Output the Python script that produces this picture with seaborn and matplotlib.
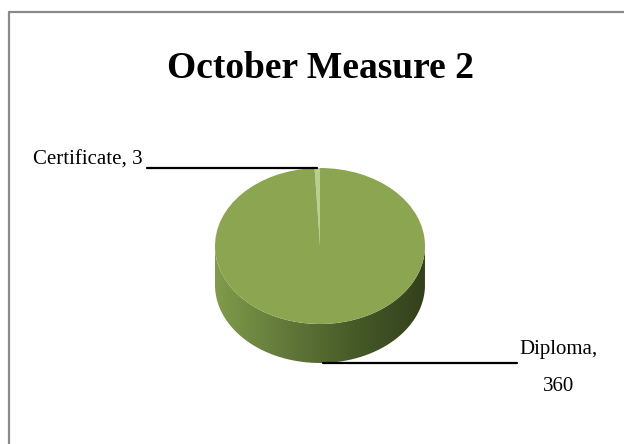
import numpy as np
import matplotlib
matplotlib.use("Agg")
import matplotlib.pyplot as plt
from matplotlib.lines import Line2D
from matplotlib.path import Path
from matplotlib.patches import PathPatch
import seaborn as sns

categories = ["Certificate", "Diploma"]
values = [3, 360]
title = "October Measure 2"

sns.set_theme(style="white")
plt.rcParams['font.family'] = ['Liberation Serif', 'DejaVu Serif']

top_colors = ["#b9cf8f", "#8ba551"]
side_cmap = sns.blend_palette(["#809b4a", "#62793a", "#465a27", "#33411c"], n_colors=256, as_cmap=True)
depth = 0.5

fig = plt.figure(figsize=(6.24, 4.44), dpi=100)
ax = fig.add_axes([215 / 624, 81 / 444, 210 / 624, 195 / 444])

# side of the cylinder (lower half of the ellipse, extruded downward)
t = np.linspace(np.pi, 2 * np.pi, 200)
xs = np.concatenate([np.cos(t), np.cos(t[::-1])])
ys = np.concatenate([np.sin(t), np.sin(t[::-1]) - depth])
side = PathPatch(Path(np.column_stack([xs, ys])), facecolor="none", edgecolor="none")
ax.add_patch(side)
grad = np.linspace(0, 1, 256).reshape(1, -1)
img = ax.imshow(grad, cmap=side_cmap, extent=(-1, 1, -1 - depth, 0.05), aspect="auto", zorder=1)
img.set_clip_path(side)

# top face
wedges, _ = ax.pie(values, colors=top_colors, startangle=90, counterclock=True,
                   radius=1, center=(0, 0), frame=True,
                   wedgeprops=dict(linewidth=0, zorder=2))
ax.set_xlim(-1, 1)
ax.set_ylim(-1 - depth, 1)
ax.set_aspect("auto")
ax.axis("off")

# labels with leader lines
w0 = wedges[0]
mid0 = np.deg2rad((w0.theta1 + w0.theta2) / 2)
p0 = (np.cos(mid0), np.sin(mid0))
ax.add_line(Line2D([p0[0], -1.65], [p0[1], p0[1]], color="black", lw=1.6, clip_on=False, zorder=3))
ax.text(-1.69, p0[1] + 0.1, f"{categories[0]}, {values[0]}", ha="right", va="center",
        fontsize=15, color="black", clip_on=False)

p1 = (0.03, -1 - depth)
ax.add_line(Line2D([p1[0], 1.88], [p1[1], p1[1]], color="black", lw=1.6, clip_on=False, zorder=3))
ax.text(1.9, p1[1] + 0.3, f"{categories[1]},\n{values[1]}", ha="left", va="top",
        multialignment="center", fontsize=15, color="black", clip_on=False, linespacing=2.3)

fig.text(321 / 624, 1 - 68 / 444, title, ha="center", va="center",
         fontsize=27, fontweight="bold", color="black")

# chart border (left and top edges)
fig.add_artist(Line2D([8.5 / 624, 8.5 / 624], [0, 1 - 12 / 444], color="#8a8a8a", lw=1.6,
                      transform=fig.transFigure))
fig.add_artist(Line2D([8.5 / 624, 1], [1 - 12 / 444, 1 - 12 / 444], color="#8a8a8a", lw=1.6,
                      transform=fig.transFigure))

fig.savefig("out.png", dpi=100, facecolor="white")
